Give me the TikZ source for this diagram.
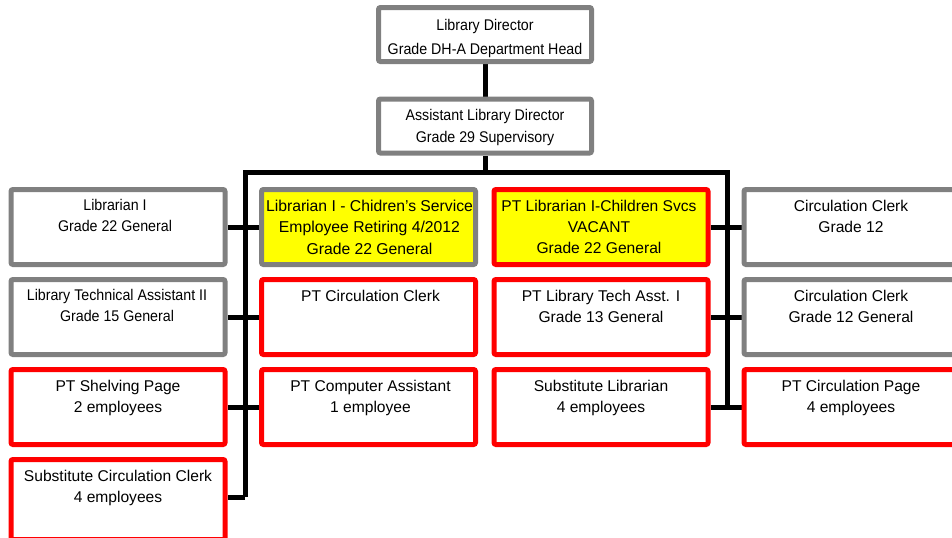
\documentclass[tikz,border=0pt]{standalone}
\usepackage{fontspec}
\setmainfont{Liberation Sans}
\newfontfamily\narrowfont[FakeStretch=0.92]{Liberation Sans}
\usetikzlibrary{calc,backgrounds}
\definecolor{boxgray}{HTML}{808080}
\definecolor{boxred}{HTML}{FF0000}
\definecolor{boxyellow}{HTML}{FFFF00}
\begin{document}
\begin{tikzpicture}[x=0.75pt,y=-0.75pt,
  boxbase/.style={rectangle, rounded corners=1.5pt, line width=3.75pt, inner sep=0pt,
    minimum width=160.5pt, minimum height=56.25pt, fill=white},
  topbox/.style={boxbase, draw=boxgray, minimum width=159.75pt, minimum height=40.5pt},
  graybox/.style={boxbase, draw=boxgray},
  redbox/.style={boxbase, draw=boxred},
  yellowgray/.style={boxbase, draw=boxgray, fill=boxyellow},
  yellowred/.style={boxbase, draw=boxred, fill=boxyellow},
  txtbase/.style={anchor=north, inner sep=0pt, align=center, text=black},
  graytext/.style={txtbase, font=\narrowfont\fontsize{11.6}{15.75}\selectfont},
  redtext/.style={txtbase, font=\fontsize{11.7}{15.75}\selectfont},
  yellowtext/.style={txtbase, font=\fontsize{11.8}{16.1}\selectfont},
  link/.style={line width=3.75pt, draw=black}
]
\useasboundingbox (0,0) rectangle (952,537);
\clip (0,0) rectangle (952,537);

% top boxes
\node[topbox] (dir) at (485,34.5) {};
\node[topbox] (asst) at (485,126) {};

% column 1
\node[graybox] (b11) at (118,227) {};
\node[graybox] (b21) at (118,317) {};
\node[redbox]  (b31) at (118,407) {};
\node[redbox, minimum height=60pt] (b41) at (118,499.5) {};
% column 2
\node[yellowgray] (b12) at (368.5,227) {};
\node[redbox] (b22) at (368.5,317) {};
\node[redbox] (b32) at (368.5,407) {};
% column 3
\node[yellowred] (b13) at (601,227) {};
\node[redbox] (b23) at (601,317) {};
\node[redbox] (b33) at (601,407) {};
% column 4
\node[graybox] (b14) at (851,227) {};
\node[graybox] (b24) at (851,317) {};
\node[redbox] (b34) at (851,407) {};

% texts
\node[graytext, font=\narrowfont\fontsize{11.6}{18}\selectfont] (tdir) at ($(dir.north)+(0,14)$) {Library Director\\Grade DH-A Department Head};
\node[graytext, font=\narrowfont\fontsize{11.6}{16.5}\selectfont] (tasst) at ($(asst.north)+(0,13)$) {Assistant Library Director\\Grade 29 Supervisory};

\node[graytext] (t11) at ($(b11.north)+(-3,12.5)$) {Librarian I\\Grade 22 General};
\node[graytext] (t21) at ($(b21.north)+(-1,12.5)$) {Library Technical Assistant II\\Grade 15 General};
\node[redtext] (t31) at ($(b31.north)+(0,12.5)$) {PT Shelving Page\\2 employees};
\node[redtext] (t41) at ($(b41.north)+(0,12.5)$) {Substitute Circulation Clerk\\4 employees};

\node[yellowtext] (t12) at ($(b12.north)+(1,12.5)$) {Librarian I - Chidren's Service\\Employee Retiring 4/2012\\Grade 22 General};
\node[redtext] (t22) at ($(b22.north)+(2,12.5)$) {PT Circulation Clerk};
\node[redtext] (t32) at ($(b32.north)+(2,12.5)$) {PT Computer Assistant\\1 employee};

\node[redtext] (t13) at ($(b13.north)+(-2,12.5)$) {PT Librarian I-Children Svcs\\VACANT\\Grade 22 General};
\node[redtext] (t23) at ($(b23.north)+(0,12.5)$) {PT Library Tech Asst. I\\Grade 13 General};
\node[redtext] (t33) at ($(b33.north)+(0,12.5)$) {Substitute Librarian\\4 employees};

\node[redtext] (t14) at ($(b14.north)+(0,12.5)$) {Circulation Clerk\\Grade 12};
\node[redtext] (t24) at ($(b24.north)+(0,12.5)$) {Circulation Clerk\\Grade 12 General};
\node[redtext] (t34) at ($(b34.north)+(0,12.5)$) {PT Circulation Page\\4 employees};

% connectors
\begin{scope}[on background layer]
  \coordinate (busL) at (245,172);
  \coordinate (busR) at (727,172);
  \coordinate (busM) at (asst.south |- busL);
  \coordinate (leftEnd) at (245,497);
  \coordinate (rightEnd) at (727,407);
  \draw[link] (dir.south) -- (asst.north);
  \draw[link] (asst.south) -- (busM);
  \draw[link] (leftEnd) -- (busL) -- (busR) -- (rightEnd);
  \draw[link] (b11.east) -- (b12.west);
  \draw[link] (b21.east) -- (b22.west);
  \draw[link] (b31.east) -- (b32.west);
  \draw[link] (leftEnd) -- (b41.east |- leftEnd);
  \draw[link] (b13.east) -- (b14.west);
  \draw[link] (b23.east) -- (b24.west);
  \draw[link] (b33.east) -- (b34.west);
\end{scope}
\end{tikzpicture}
\end{document}
